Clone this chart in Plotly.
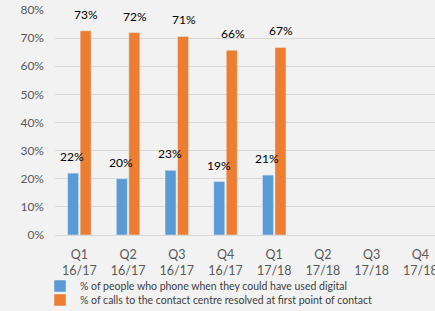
import plotly.graph_objects as go

quarters = ["Q1", "Q2", "Q3", "Q4", "Q1", "Q2", "Q3", "Q4"]
years = ["16/17", "16/17", "16/17", "16/17", "17/18", "17/18", "17/18", "17/18"]
digital_pct = [22, 20, 23, 19, 21.3, None, None, None]
resolved_pct = [72.6, 72, 70.6, 65.7, 66.7, None, None, None]
digital_lbl = ["22%", "20%", "23%", "19%", "21%", "", "", ""]
resolved_lbl = ["73%", "72%", "71%", "66%", "67%", "", "", ""]
y_ticks = [0, 10, 20, 30, 40, 50, 60, 70, 80]
y_tick_text = ["0%", "10%", "20%", "30%", "40%", "50%", "60%", "70%", "80%"]

FONT = "Lato, Open Sans, sans-serif"
xs = list(range(len(quarters)))
tick_text = [f"{q}<br>{y}" for q, y in zip(quarters, years)]
fig = go.Figure()
fig.add_trace(go.Bar(
    x=xs, y=digital_pct, marker=dict(color="#5B9BD5"), legend="legend",
    name="% of people who phone when they could have used digital"))
fig.add_trace(go.Bar(
    x=xs, y=resolved_pct, marker=dict(color="#ED7D31"), legend="legend2",
    name="% of calls to the contact centre resolved at first point of contact"))

for vals, lbls, shift in [(digital_pct, digital_lbl, -7), (resolved_pct, resolved_lbl, 7)]:
    for x, v, t in zip(xs, vals, lbls):
        if v is None:
            continue
        fig.add_annotation(x=x, y=v, text=t, showarrow=False, xshift=shift,
                           yshift=7, yanchor="bottom", xanchor="center",
                           font=dict(size=12, color="#000000", family=FONT))

leg_common = dict(orientation="v", xref="container", yref="container",
                  xanchor="left", yanchor="middle",
                  font=dict(size=10.5, color="#404040", family=FONT),
                  bgcolor="rgba(0,0,0,0)", itemwidth=30, tracegroupgap=0)
XR = [-0.5, 7.30]
fig.update_layout(
    width=435, height=311,
    paper_bgcolor="#F2F2F2", plot_bgcolor="#F2F2F2",
    margin=dict(l=55, r=0, t=10, b=76, autoexpand=False),
    barmode="group", bargap=0.487, bargroupgap=0.12,
    font=dict(family=FONT, color="#595959", size=12),
    showlegend=True,
    legend=dict(x=40 / 435, y=1 - 286 / 311, **leg_common),
    legend2=dict(x=40 / 435, y=1 - 300 / 311, **leg_common),
    xaxis=dict(range=XR, tickmode="array", tickvals=xs, ticktext=tick_text,
               ticklabelstandoff=8, ticklabeloverflow="allow",
               showgrid=False, showline=True,
               linecolor="#D9D9D9", ticks="",
               tickfont=dict(size=12.5, color="#595959")),
    yaxis=dict(range=[0, 80], tickmode="array", tickvals=y_ticks,
               ticktext=y_tick_text, showgrid=True, gridcolor="#D9D9D9",
               zeroline=False, ticks="", ticklabelstandoff=10,
               tickfont=dict(size=12, color="#595959")),
)
fig.write_html("out.html", config={"displayModeBar": False},
               post_script="document.body.style.margin='0';document.body.style.overflow='hidden';")
